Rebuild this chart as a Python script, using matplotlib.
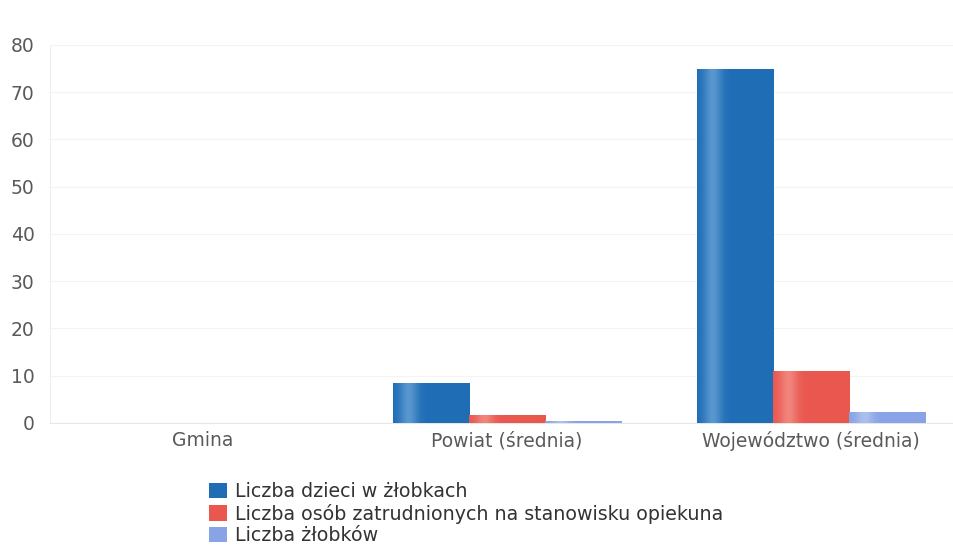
import numpy as np
import matplotlib.pyplot as plt
from matplotlib.patches import Patch
from matplotlib.colors import to_rgb

# dane
kategorie = ["Gmina", "Powiat (średnia)", "Województwo (średnia)"]
dzieci = [0, 8.4, 74.9]
opiekunowie = [0, 1.5, 11.0]
zlobki = [0, 0.3, 2.3]
serie = ["Liczba dzieci w żłobkach",
         "Liczba osób zatrudnionych na stanowisku opiekuna",
         "Liczba żłobków"]
kolory = ["#1f6db5", "#e9574f", "#88a4e6"]
jasne = ["#7fb3e0", "#f7a39b", "#c3d2f4"]

plt.rcParams['font.family'] = ['DejaVu Sans']

fig = plt.figure(figsize=(9.54, 5.46), dpi=100)
ax = fig.add_axes([0.0524, 0.2253, 0.9476, 0.6923])

x = np.arange(len(kategorie))
w = 0.25
for i, (vals, k, j) in enumerate(zip([dzieci, opiekunowie, zlobki], kolory, jasne)):
    bars = ax.bar(x + (i - 1) * w, vals, width=w, color=k, zorder=2)
    # lekki gradient jak w oryginale
    for b in bars:
        if b.get_height() <= 0:
            continue
        x0, y0 = b.get_x(), b.get_y()
        grad = np.linspace(0, 1, 60)
        prof = np.exp(-((grad - 0.2) / 0.12) ** 2) * 0.6
        c1, c2 = np.array(to_rgb(k)), np.array(to_rgb(j))
        img = (c1[None, :] * (1 - prof[:, None]) + c2[None, :] * prof[:, None])[None, :, :]
        ax.imshow(img, extent=[x0, x0 + b.get_width(), y0, y0 + b.get_height()],
                  aspect='auto', zorder=3, interpolation='bilinear')

ax.set_xlim(-0.5, 2.469)
ax.set_ylim(0, 80)
ax.set_yticks(range(0, 81, 10))
ax.set_xticks(x)
ax.set_xticklabels(kategorie)
ax.tick_params(axis='both', length=0, labelsize=13.5, colors="#5a5a5a", pad=6)
ax.tick_params(axis='y', pad=11)
ax.grid(axis='y', color="#f4f4f4", linewidth=0.8, zorder=0)
for s in ["top", "right"]:
    ax.spines[s].set_visible(False)
ax.spines["left"].set_color("#eeeeee")
ax.spines["bottom"].set_color("#e6e6e6")

uchwyty = [Patch(facecolor=k, edgecolor='none') for k in kolory]
fig.legend(uchwyty, serie, loc='upper left', bbox_to_anchor=(0.219, 0.117),
           frameon=False, fontsize=13.7, labelcolor="#333333",
           handlelength=0.95, handleheight=0.9,
           handletextpad=0.42, labelspacing=0.13, borderpad=0, borderaxespad=0)

fig.savefig("out.png", dpi=100)
